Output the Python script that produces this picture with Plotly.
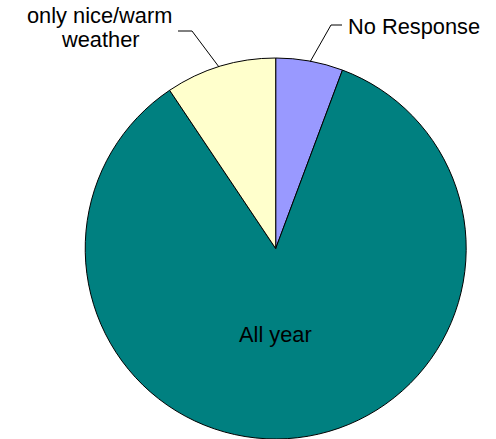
import plotly.graph_objects as go

labels = ["No Response", "All year", "only nice/warm weather"]
values = [5.7, 84.9, 9.4]
colors = ["#9999FF", "#008080", "#FFFFCC"]

W, H = 496, 439


def px(x):
    return x / W


def py(y):
    return 1 - y / H


cx, cy, r = 275.7, 248.5, 190.5

fig = go.Figure(go.Pie(
    labels=labels,
    values=values,
    sort=False,
    direction="clockwise",
    rotation=0,
    marker=dict(colors=colors, line=dict(color="black", width=1)),
    textinfo="none",
    hoverinfo="label+percent",
    showlegend=False,
    domain=dict(x=[px(cx - r), px(cx + r)], y=[py(cy + r), py(cy - r)]),
))

font = dict(family="Liberation Sans, Arial, sans-serif", size=21.8, color="black")

annotations = [
    dict(text="No Response", x=px(346), y=py(26.5), xanchor="left", yanchor="middle"),
    dict(text="only nice/warm", x=px(99.5), y=py(15.5), xanchor="center", yanchor="middle"),
    dict(text="weather", x=px(100.5), y=py(39), xanchor="center", yanchor="middle"),
    dict(text="All year", x=px(275), y=py(334), xanchor="center", yanchor="middle"),
]
for a in annotations:
    a.update(xref="paper", yref="paper", showarrow=False, font=font)

leaders = [
    [(310, 62), (331, 25), (342, 25)],
    [(219, 67), (192, 31), (178, 31)],
]
shapes = []
for pts in leaders:
    path = "M " + " L ".join(f"{px(x)},{py(y)}" for x, y in pts)
    shapes.append(dict(type="path", path=path, xref="paper", yref="paper",
                       line=dict(color="black", width=1)))

fig.update_layout(
    width=W, height=H, autosize=False,
    margin=dict(l=0, r=0, t=0, b=0),
    paper_bgcolor="white", plot_bgcolor="white",
    annotations=annotations,
    shapes=shapes,
)

fig.write_html("out.html")
